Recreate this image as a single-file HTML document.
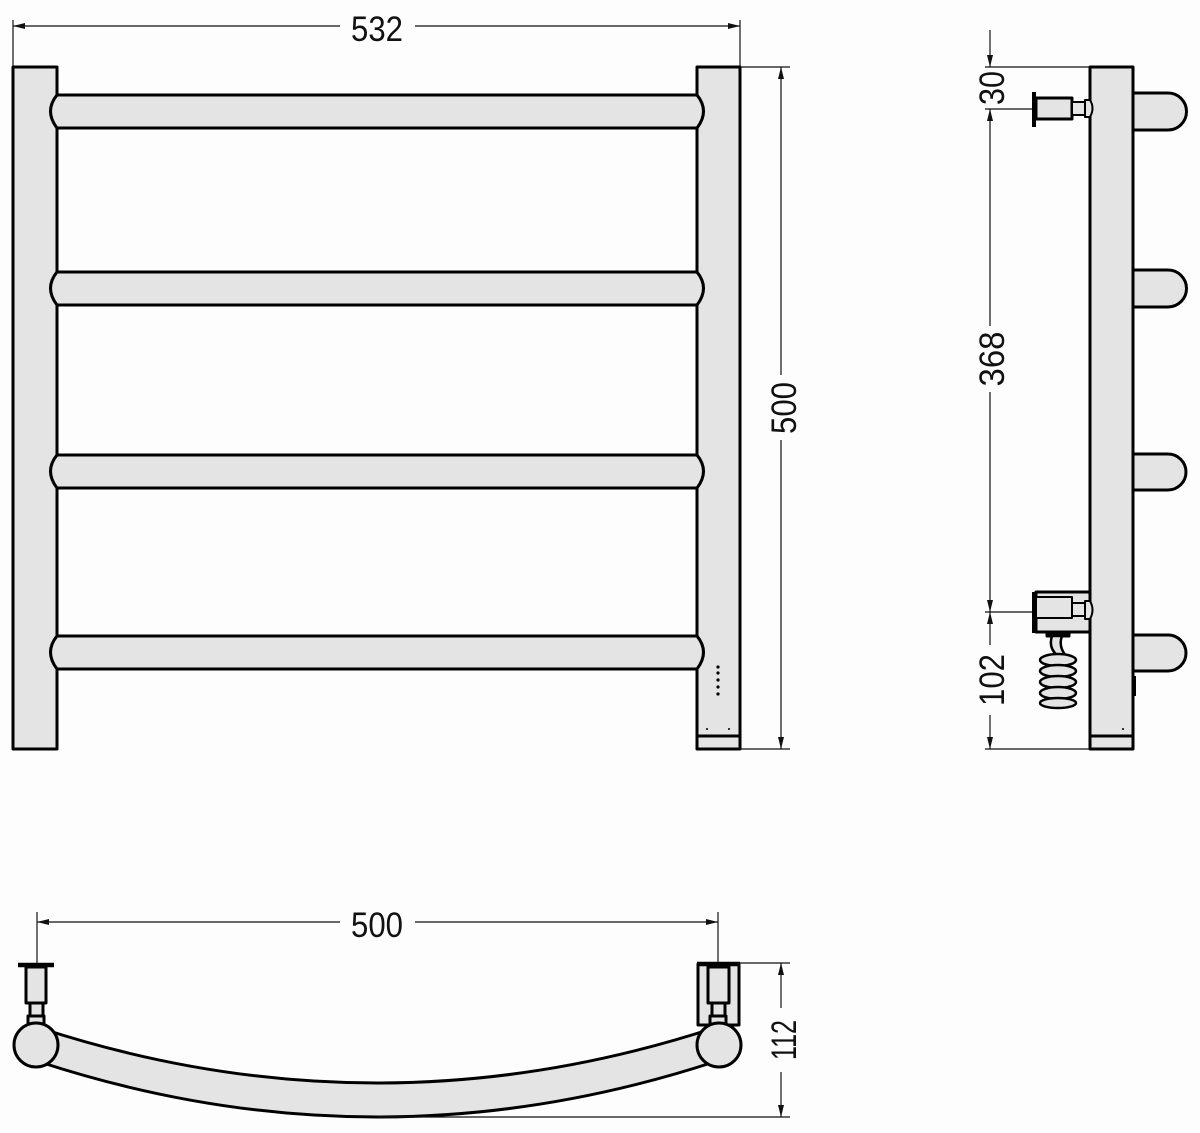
<!DOCTYPE html>
<html><head><style>
html,body{margin:0;padding:0;background:#fdfdfd;}
svg{display:block;}
text{font-family:"Liberation Sans Narrow","Liberation Sans",sans-serif;font-size:35px;fill:#111;}
</style></head><body>
<svg width="1200" height="1133" viewBox="0 0 1200 1133" xmlns="http://www.w3.org/2000/svg">
<defs>
<marker id="a" viewBox="0 0 12 6" refX="12" refY="3" markerWidth="12" markerHeight="6" markerUnits="userSpaceOnUse" orient="auto-start-reverse"><path d="M0,0L12,3L0,6z" fill="#111"/></marker>
</defs>
<rect width="1200" height="1133" fill="#fdfdfd"/>
<g stroke="#000" stroke-width="3" fill="#e4e4e4" stroke-linejoin="round">
<rect x="13" y="67" width="44" height="682"/>
<rect x="697" y="67" width="43" height="682"/>
<line x1="697" y1="736" x2="740" y2="736"/>
<path d="M57,95 L697,95 Q710,111 697,128 L57,128 Q44,111 57,95Z"/>
<path d="M57,272 L697,272 Q710,288 697,305 L57,305 Q44,288 57,272Z"/>
<path d="M57,455 L697,455 Q710,471 697,488 L57,488 Q44,471 57,455Z"/>
<path d="M57,636 L697,636 Q710,652 697,669 L57,669 Q44,652 57,636Z"/>
</g>
<g fill="#000">
<circle cx="718" cy="667" r="1.6"/><circle cx="718" cy="673" r="1.6"/><circle cx="718" cy="680" r="1.6"/><circle cx="718" cy="687" r="1.6"/><circle cx="718" cy="694" r="1.6"/>
<circle cx="707" cy="729" r="1"/><circle cx="729" cy="729" r="1"/>
</g>
<g stroke="#111" stroke-width="1.2" fill="none">
<line x1="13" y1="20" x2="13" y2="67"/>
<line x1="740" y1="20" x2="740" y2="67"/>
<line x1="13" y1="26" x2="340" y2="26" marker-start="url(#a)"/>
<line x1="415" y1="26" x2="740" y2="26" marker-end="url(#a)"/>
<line x1="740" y1="67" x2="790" y2="67"/>
<line x1="740" y1="749" x2="790" y2="749"/>
<line x1="781" y1="67" x2="781" y2="375" marker-start="url(#a)"/>
<line x1="781" y1="440" x2="781" y2="749" marker-end="url(#a)"/>
</g>
<text x="377" y="41" text-anchor="middle" textLength="52" lengthAdjust="spacingAndGlyphs">532</text>
<text transform="translate(796,408) rotate(-90)" text-anchor="middle" textLength="52" lengthAdjust="spacingAndGlyphs">500</text>

<!-- side view -->
<g stroke="#000" stroke-width="3" fill="#e4e4e4" stroke-linejoin="round">
<path d="M1133,93 L1168,93 A18.5,18.5 0 0 1 1168,130 L1133,130Z"/>
<path d="M1133,270 L1168,270 A18.5,18.5 0 0 1 1168,307 L1133,307Z"/>
<path d="M1133,454 L1168,454 A18,18 0 0 1 1168,490 L1133,490Z"/>
<path d="M1133,635 L1168,635 A18,18 0 0 1 1168,671 L1133,671Z"/>
<rect x="1090" y="67" width="43" height="682"/>
<line x1="1090" y1="736" x2="1133" y2="736"/>
<rect x="1036" y="98" width="36" height="21"/>
<rect x="1072" y="102" width="13" height="13" stroke-width="2"/>
<path d="M1085,100 L1090,100 Q1095,108 1090,117 L1085,117Z" stroke-width="2"/>
<rect x="1036" y="592" width="54" height="40"/>
<rect x="1036" y="597" width="36" height="21" stroke-width="2"/>
<rect x="1072" y="603" width="13" height="13" stroke-width="2"/>
<path d="M1085,601 L1090,601 Q1095,610 1090,619 L1085,619Z" stroke-width="2"/>
<rect x="1047" y="632" width="22" height="4" fill="#000"/>
</g>
<g stroke="#000" stroke-width="4" fill="none">
<line x1="1034" y1="92" x2="1034" y2="127"/>
<line x1="1034" y1="592" x2="1034" y2="633"/>
</g>
<!-- coil -->
<g stroke="#000" stroke-width="2.5" fill="#e4e4e4">
<path d="M1052,636 Q1048,648 1058,656 L1066,656 Q1058,646 1062,636Z"/>
<ellipse cx="1058" cy="660" rx="18" ry="6"/>
<ellipse cx="1058" cy="671" rx="18" ry="6"/>
<ellipse cx="1058" cy="682" rx="18" ry="6"/>
<ellipse cx="1058" cy="693" rx="18" ry="6"/>
<ellipse cx="1058" cy="703" rx="18" ry="5"/>
</g>
<circle cx="1123" cy="729" r="1" fill="#000"/>
<g fill="#000"><rect x="1134" y="676" width="2" height="20"/></g>
<g stroke="#111" stroke-width="1.2" fill="none">
<line x1="985" y1="67" x2="1090" y2="67"/>
<line x1="985" y1="109" x2="1032" y2="109"/>
<line x1="985" y1="612" x2="1032" y2="612"/>
<line x1="985" y1="749" x2="1090" y2="749"/>
<line x1="990" y1="30" x2="990" y2="67" marker-end="url(#a)"/>
<line x1="990" y1="109" x2="990" y2="326" marker-start="url(#a)"/>
<line x1="990" y1="392" x2="990" y2="612" marker-end="url(#a)"/>
<line x1="990" y1="612" x2="990" y2="645" marker-start="url(#a)"/>
<line x1="990" y1="715" x2="990" y2="749" marker-end="url(#a)"/>
</g>
<text transform="translate(1004,88) rotate(-90)" text-anchor="middle" textLength="34" lengthAdjust="spacingAndGlyphs">30</text>
<text transform="translate(1004,359) rotate(-90)" text-anchor="middle" textLength="55" lengthAdjust="spacingAndGlyphs">368</text>
<text transform="translate(1004,680) rotate(-90)" text-anchor="middle" textLength="52" lengthAdjust="spacingAndGlyphs">102</text>

<!-- bottom view -->
<g stroke="#000" stroke-width="3" fill="#e4e4e4" stroke-linejoin="round">
<path d="M40,1028 Q377,1138 714,1028 L714,1062 Q377,1172 40,1062Z"/>
<rect x="26" y="967" width="20" height="36"/>
<rect x="30" y="1003" width="13" height="13"/>
<rect x="28" y="1016" width="16" height="8"/>
<circle cx="36" cy="1045" r="22"/>
<rect x="698" y="964" width="41" height="61"/>
<rect x="708" y="967" width="21" height="36"/>
<rect x="712" y="1003" width="13" height="13"/>
<rect x="710" y="1016" width="16" height="8"/>
<circle cx="719" cy="1045" r="22"/>
</g>
<g stroke="#000" stroke-width="4.5">
<line x1="18" y1="965" x2="54" y2="965"/>
<line x1="697" y1="964" x2="740" y2="964"/>
</g>
<g stroke="#111" stroke-width="1.2" fill="none">
<line x1="37" y1="912" x2="37" y2="963"/>
<line x1="718" y1="912" x2="718" y2="963"/>
<line x1="37" y1="922" x2="340" y2="922" marker-start="url(#a)"/>
<line x1="415" y1="922" x2="718" y2="922" marker-end="url(#a)"/>
<line x1="740" y1="963" x2="790" y2="963"/>
<line x1="377" y1="1117" x2="790" y2="1117"/>
<line x1="781" y1="963" x2="781" y2="1008" marker-start="url(#a)"/>
<line x1="781" y1="1072" x2="781" y2="1117" marker-end="url(#a)"/>
</g>
<text x="377" y="937" text-anchor="middle" textLength="52" lengthAdjust="spacingAndGlyphs">500</text>
<text transform="translate(796,1040) rotate(-90)" text-anchor="middle" textLength="40" lengthAdjust="spacingAndGlyphs">112</text>
</svg>
</body></html>
